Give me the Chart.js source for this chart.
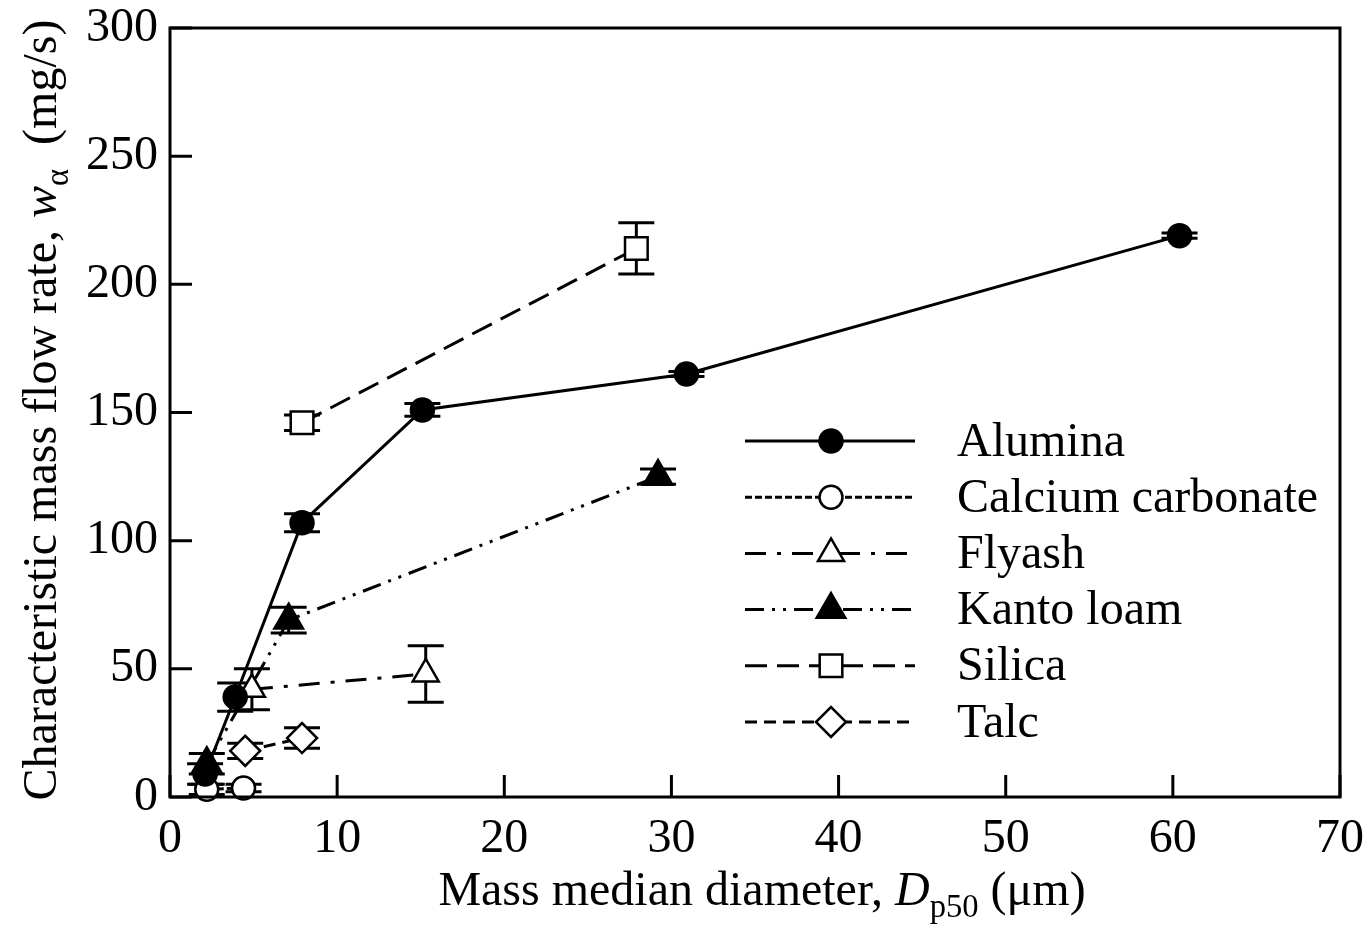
<!DOCTYPE html>
<html><head><meta charset="utf-8">
<script src="https://cdn.jsdelivr.net/npm/chart.js@4/dist/chart.umd.min.js"></script>
<style>html,body{margin:0;padding:0;background:#fff}#wrap{width:1368px;height:929px;position:relative}</style>
</head><body><div id="wrap"><canvas id="c"></canvas></div>
<script>
const seriesNames = ['Alumina','Calcium carbonate','Flyash','Kanto loam','Silica','Talc'];

const aluminaX = [2.1, 3.9, 7.9, 15.1, 30.9, 60.4];
const aluminaY = [9, 39, 107, 151, 165, 219];
const aluminaErr = [4, 5.5, 3.5, 2.5, 1, 1];

const calciumX = [2.2, 4.4];
const calciumY = [3, 3.5];
const calciumErr = [2, 1.5];

const flyashX = [4.9, 15.3];
const flyashY = [42, 48];
const flyashErr = [8, 11];

const kantoX = [2.2, 7.1, 29.2];
const kantoY = [13, 69, 125];
const kantoErr = [4, 5, 3];

const silicaX = [7.9, 27.9];
const silicaY = [146, 214];
const silicaErr = [3, 10];

const talcX = [4.5, 7.9];
const talcY = [18, 23];
const talcErr = [3, 4];

const xTicks = [0, 10, 20, 30, 40, 50, 60, 70];
const yTicks = [0, 50, 100, 150, 200, 250, 300];

const FONT = '"Liberation Serif", "Times New Roman", serif';
const pts = (xs, ys) => xs.map((x, i) => ({x: x, y: ys[i]}));
const errs = [aluminaErr, calciumErr, flyashErr, kantoErr, silicaErr, talcErr];

function ds(label, xs, ys, dash, style, radius, fill) {
  return {
    label: label, data: pts(xs, ys), showLine: true, fill: false,
    borderColor: '#000', borderWidth: 3, borderDash: dash,
    pointStyle: style, pointRadius: radius, pointHoverRadius: radius,
    pointBackgroundColor: fill, pointBorderColor: '#000', pointBorderWidth: 2.5,
    clip: false, tension: 0
  };
}

const datasets = [
  ds(seriesNames[0], aluminaX, aluminaY, [], 'circle', 11.5, '#000'),
  ds(seriesNames[1], calciumX, calciumY, [7, 3], 'circle', 11.5, '#fff'),
  ds(seriesNames[2], flyashX, flyashY, [21, 11, 4, 11], 'triangle', 15, '#fff'),
  ds(seriesNames[3], kantoX, kantoY, [19, 8, 3, 8, 3, 8], 'triangle', 16.5, '#000'),
  ds(seriesNames[4], silicaX, silicaY, [22, 10], 'rect', 16, '#fff'),
  ds(seriesNames[5], talcX, talcY, [12, 7], 'rectRot', 15, '#fff')
];

function drawRich(ctx, parts, cx, baseY, size) {
  const fontOf = p => (p.it ? 'italic ' : '') + (p.sub ? size * 0.68 : size) + 'px ' + FONT;
  let total = 0;
  parts.forEach(p => { ctx.font = fontOf(p); p.w = ctx.measureText(p.t).width; total += p.w; });
  let x = cx - total / 2;
  ctx.textAlign = 'left';
  ctx.textBaseline = 'alphabetic';
  parts.forEach(p => {
    ctx.font = fontOf(p);
    ctx.fillText(p.t, x, baseY + (p.sub ? size * 0.24 : 0));
    x += p.w;
  });
}

const decor = {
  id: 'decor',
  beforeDatasetsDraw(chart) {
    const ctx = chart.ctx, xs = chart.scales.x, ys = chart.scales.y;
    ctx.save();
    ctx.strokeStyle = '#000'; ctx.lineWidth = 3; ctx.setLineDash([]);
    chart.data.datasets.forEach((d, di) => {
      d.data.forEach((p, i) => {
        const e = errs[di][i];
        const px = xs.getPixelForValue(p.x);
        const t = ys.getPixelForValue(p.y + e), b = ys.getPixelForValue(p.y - e);
        ctx.beginPath();
        ctx.moveTo(px, t); ctx.lineTo(px, b);
        ctx.moveTo(px - 18, t); ctx.lineTo(px + 18, t);
        ctx.moveTo(px - 18, b); ctx.lineTo(px + 18, b);
        ctx.stroke();
      });
    });
    ctx.restore();
  },
  afterDraw(chart) {
    const ctx = chart.ctx, a = chart.chartArea, xs = chart.scales.x, ys = chart.scales.y;
    ctx.save();
    ctx.strokeStyle = '#000'; ctx.lineWidth = 3; ctx.setLineDash([]);
    ctx.strokeRect(a.left, a.top, a.right - a.left, a.bottom - a.top);
    ctx.beginPath();
    xTicks.forEach(v => { const p = xs.getPixelForValue(v); ctx.moveTo(p, a.bottom); ctx.lineTo(p, a.bottom - 22); });
    yTicks.forEach(v => { const p = ys.getPixelForValue(v); ctx.moveTo(a.left, p); ctx.lineTo(a.left + 22, p); });
    ctx.stroke();

    // legend
    const rowY0 = 441, rowStep = 56.2;
    chart.data.datasets.forEach((d, i) => {
      const y = rowY0 + i * rowStep;
      ctx.setLineDash(d.borderDash);
      ctx.lineWidth = 3; ctx.strokeStyle = '#000';
      ctx.beginPath(); ctx.moveTo(745, y); ctx.lineTo(915, y); ctx.stroke();
      ctx.setLineDash([]);
      ctx.fillStyle = d.pointBackgroundColor; ctx.strokeStyle = '#000'; ctx.lineWidth = d.pointBorderWidth;
      Chart.helpers.drawPoint(ctx, {pointStyle: d.pointStyle, radius: d.pointRadius, borderWidth: d.pointBorderWidth, rotation: 0}, 831, y);
      ctx.fillStyle = '#000';
      ctx.font = '48px ' + FONT; ctx.textAlign = 'left'; ctx.textBaseline = 'middle';
      ctx.fillText(d.label, 957, y + 2);
    });

    // axis titles
    ctx.fillStyle = '#000';
    drawRich(ctx, [{t: 'Mass median diameter, '}, {t: 'D', it: true}, {t: 'p50', sub: true}, {t: ' (μm)'}], 762, 905, 48);
    ctx.save();
    ctx.translate(56, 410);
    ctx.rotate(-Math.PI / 2);
    drawRich(ctx, [{t: 'Characteristic mass flow rate, '}, {t: 'w', it: true}, {t: 'α', sub: true}, {t: '  (mg/s)'}], 0, 0, 48);
    ctx.restore();
    ctx.restore();
  }
};

new Chart(document.getElementById('c'), {
  type: 'scatter',
  data: {datasets: datasets},
  options: {
    responsive: true, maintainAspectRatio: false, animation: false,
    layout: {padding: {left: 0, right: 28, top: 28, bottom: 0}},
    plugins: {legend: {display: false}, tooltip: {enabled: false}},
    scales: {
      x: {
        type: 'linear', min: 0, max: 70,
        afterBuildTicks(s) { s.ticks = xTicks.map(v => ({value: v})); },
        afterFit(s) { s.height = 132; s.paddingLeft = 0; s.paddingRight = 0; },
        grid: {display: false, drawTicks: false}, border: {display: false},
        ticks: {color: '#000', font: {family: FONT, size: 48, lineHeight: 1}, padding: 18, maxRotation: 0}
      },
      y: {
        type: 'linear', min: 0, max: 300,
        afterBuildTicks(s) { s.ticks = yTicks.map(v => ({value: v})); },
        afterFit(s) { s.width = 170; s.paddingTop = 0; s.paddingBottom = 0; },
        grid: {display: false, drawTicks: false}, border: {display: false},
        ticks: {color: '#000', font: {family: FONT, size: 48, lineHeight: 1}, padding: 12}
      }
    }
  },
  plugins: [decor]
});
</script></body></html>
